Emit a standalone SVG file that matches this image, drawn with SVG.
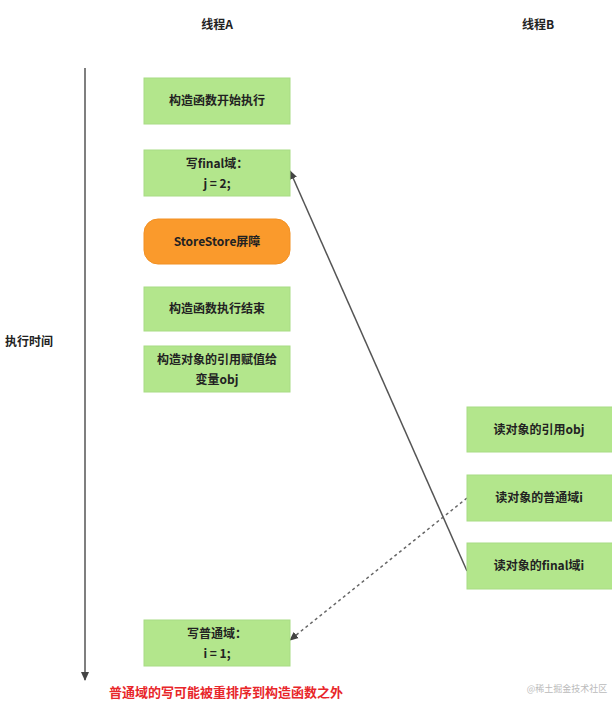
<svg xmlns="http://www.w3.org/2000/svg" width="612" height="704" viewBox="0 0 612 704">
<style>
text{font-family:"Noto Sans CJK SC","Noto Sans",sans-serif;font-weight:bold;font-size:12px;fill:#222;text-anchor:middle}
.g{fill:#b3e68c;stroke:#a8dc84;stroke-width:1}
</style>
<defs>
<marker id="ah" markerWidth="10" markerHeight="10" refX="8" refY="5" orient="auto" markerUnits="userSpaceOnUse"><path d="M0,1 L9,5 L0,9 z" fill="#444"/></marker>
</defs>
<rect width="612" height="704" fill="#fff"/>
<text x="217" y="29">线程A</text>
<text x="538" y="29">线程B</text>
<text x="29" y="346">执行时间</text>
<g id="connectors">
<line x1="85" y1="68" x2="85" y2="680" stroke="#555" stroke-width="1.5" marker-end="url(#ah)"/>
<line x1="467" y1="571" x2="290" y2="171" stroke="#555" stroke-width="1.5" marker-end="url(#ah)"/>
<line x1="467" y1="498" x2="290" y2="640" stroke="#666" stroke-width="1.5" stroke-dasharray="3,3" marker-end="url(#ah)"/>
</g>
<g id="n1"><rect class="g" x="144" y="78" width="146" height="46"/><text x="217" y="105">构造函数开始执行</text></g>
<g id="n2"><rect class="g" x="144" y="150" width="146" height="46"/><text x="217" y="168">写final域：</text><text x="217" y="188">j = 2;</text></g>
<g id="n3"><rect x="144" y="219" width="146" height="45" rx="14" fill="#fa9a2c" stroke="#f29022"/><text x="217" y="246">StoreStore屏障</text></g>
<g id="n4"><rect class="g" x="144" y="287" width="146" height="44"/><text x="217" y="313">构造函数执行结束</text></g>
<g id="n5"><rect class="g" x="144" y="346" width="146" height="46"/><text x="217" y="364">构造对象的引用赋值给</text><text x="217" y="384">变量obj</text></g>
<g id="n6"><rect class="g" x="144" y="620" width="146" height="46"/><text x="217" y="638">写普通域：</text><text x="217" y="658">i = 1;</text></g>
<g id="n7"><rect class="g" x="467" y="407" width="146" height="45"/><text x="539" y="434">读对象的引用obj</text></g>
<g id="n8"><rect class="g" x="467" y="475" width="146" height="46"/><text x="539" y="502">读对象的普通域i</text></g>
<g id="n9"><rect class="g" x="467" y="543" width="146" height="46"/><text x="539" y="570">读对象的final域i</text></g>
<text x="226" y="697" style="fill:#e8262a;font-size:13px">普通域的写可能被重排序到构造函数之外</text>
<text x="567" y="692" style="fill:#bbb;font-size:9px;font-weight:normal">@稀土掘金技术社区</text>
</svg>
